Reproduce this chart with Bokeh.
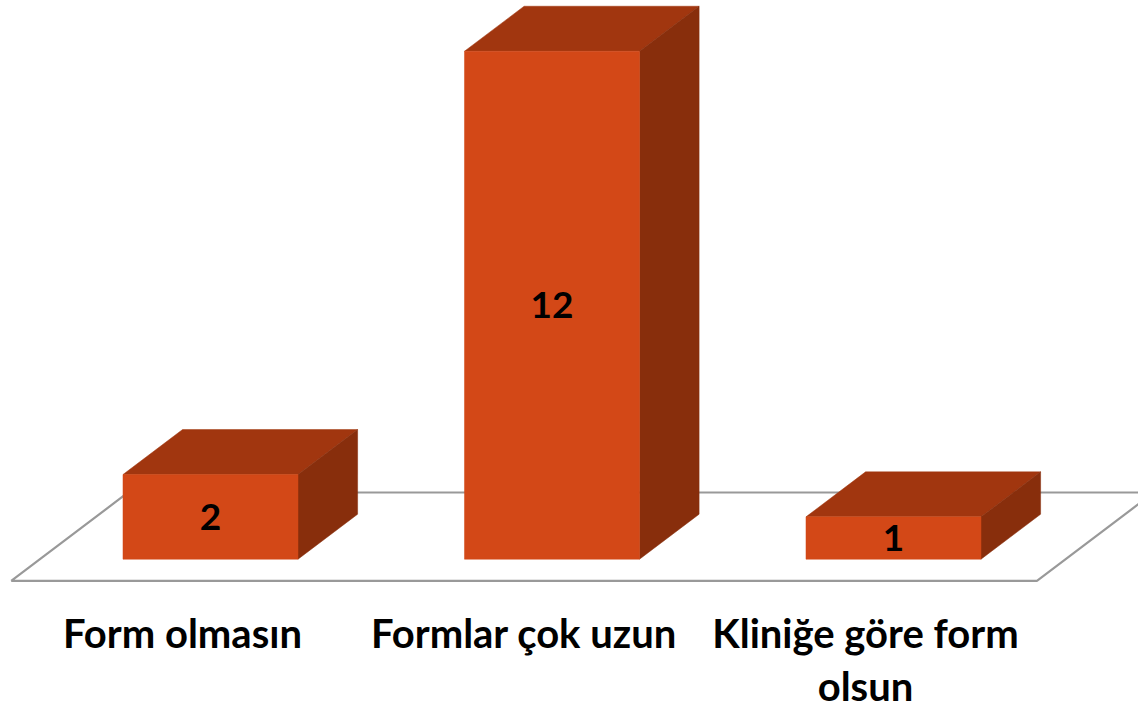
from bokeh.plotting import figure
from bokeh.embed import file_html
from bokeh.resources import INLINE
from bokeh.core.properties import value
from bokeh.models import Range1d

categories = ["Form olmasın", "Formlar çok uzun", "Kliniğe göre form\nolsun"]
counts = [2, 12, 1]

FRONT, TOP, SIDE, FLOOR = "#D34817", "#A1360F", "#882E0C", "#999999"
FONT = "Lato"
BAR_W = 0.5125
DX, DY = 0.1745, 1.063
LABEL_SHIFT = 0.082
LABEL_Y = -1.18

xs = list(range(len(categories)))
W, H = 1138, 705
PX_X, PX_Y = 341.5, 42.33
x0_px, y0_px = 210.0, 558.7

p = figure(width=W, height=H, output_backend="svg", toolbar_location=None,
           x_range=Range1d(-x0_px / PX_X, (W - x0_px) / PX_X),
           y_range=Range1d(-(H - y0_px) / PX_Y, y0_px / PX_Y),
           min_border=0, outline_line_color=None, background_fill_color="white",
           border_fill_color="white", x_axis_location=None, y_axis_location=None)
p.grid.visible = False

# floor parallelogram
fy0, fy1 = -0.51, 1.576
fx0, fx1 = -0.5836, 2.42
fdx = (fy1 - fy0) / DY * DX
p.line([fx0, fx1, fx1 + fdx, fx0 + fdx, fx0], [fy0, fy0, fy1, fy1, fy0], line_color=FLOOR, line_width=2.2)

for x, c in zip(xs, counts):
    l, r = x - BAR_W / 2, x + BAR_W / 2
    p.patch([l, r, r + DX, l + DX], [c, c, c + DY, c + DY], fill_color=TOP, line_color=TOP, line_width=0.5)
    p.patch([r, r + DX, r + DX, r], [0, DY, c + DY, c], fill_color=SIDE, line_color=SIDE, line_width=0.5)

p.vbar(x=xs, top=counts, bottom=0, width=BAR_W, fill_color=FRONT, line_color=FRONT, line_width=0.5)
p.text(x=xs, y=[c / 2 for c in counts], text=[str(c) for c in counts], text_align="center",
       text_baseline="middle", text_color="black", text_font=value(FONT), text_font_style="bold",
       text_font_size="37px")

p.text(x=[x - LABEL_SHIFT for x in xs], y=[LABEL_Y] * len(xs), text=categories, text_align="center",
       text_baseline="top", text_color="black", text_font=value(FONT), text_font_style="bold",
       text_font_size="40px", text_line_height=1.1)

open("out.html", "w").write(file_html(p, INLINE))
